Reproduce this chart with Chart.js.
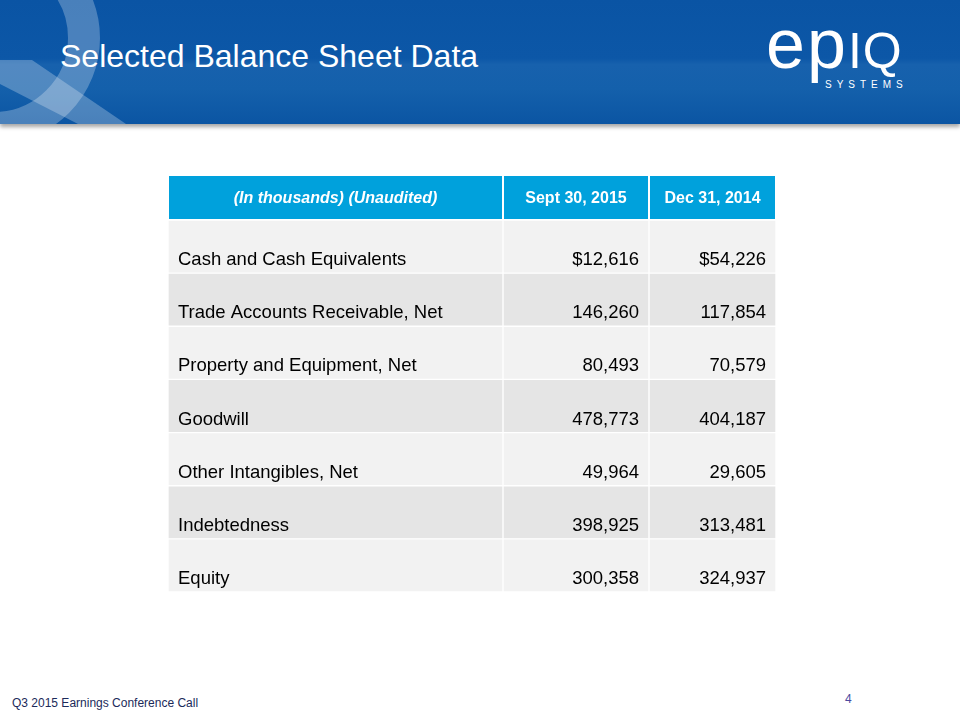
<!DOCTYPE html>
<html>
<head>
<meta charset="utf-8">
<script src="https://cdn.jsdelivr.net/npm/chart.js@4"></script>
<style>
body{margin:0;background:#fff;font-family:"Liberation Sans",Arial,sans-serif;}
#page{position:relative;width:960px;height:720px;overflow:hidden;background:#fff;}
#bandeau{position:absolute;left:0;top:0;width:960px;height:124px;
	background:linear-gradient(to bottom,#0a54a4 0%,#0c57a7 47%,#1761ad 52%,#1460ab 72%,#0b55a3 100%);
	box-shadow:0 3px 4px rgba(0,0,0,0.35);}
#bandeau svg{position:absolute;left:0;top:0;}
#titre{position:absolute;left:60px;top:38px;color:#fff;font-size:32px;white-space:nowrap;}
#logo{position:absolute;left:766px;top:9px;color:#fff;font-size:70px;letter-spacing:2px;line-height:70px;white-space:nowrap;}
#logo span{font-size:50px;letter-spacing:1px;}
#systems{position:absolute;left:825px;top:79px;color:#fff;font-size:10px;letter-spacing:5px;}
#pied{position:absolute;left:12px;top:696px;color:#1b2a5a;font-size:12px;}
#num{position:absolute;left:845px;top:692px;color:#4a4aa0;font-size:12px;}
#zone{position:absolute;left:168px;top:176px;width:608px;height:416px;}
</style>
</head>
<body>
<div id="page">
	<div id="bandeau">
		<svg width="960" height="124">
			<circle cx="-6" cy="38" r="90" fill="none" stroke="rgba(255,255,255,0.26)" stroke-width="32"/>
			<polygon points="0,60 32,60 126,124 78,124 0,84" fill="rgba(255,255,255,0.26)"/>
		</svg>
		<div id="titre">Selected Balance Sheet Data</div>
		<div id="logo">ep<span>IQ</span></div>
		<div id="systems">SYSTEMS</div>
	</div>
	<div id="zone"><canvas id="tableau"></canvas></div>
	<div id="pied">Q3 2015 Earnings Conference Call</div>
	<div id="num">4</div>
</div>
<script>
// donnees du tableau
var enTetes = ['(In thousands) (Unaudited)', 'Sept 30, 2015', 'Dec 31, 2014'];
var lignes = ['Cash and Cash Equivalents', 'Trade Accounts Receivable, Net', 'Property and Equipment, Net',
	'Goodwill', 'Other Intangibles, Net', 'Indebtedness', 'Equity'];
var sept2015 = [12616, 146260, 80493, 478773, 49964, 398925, 300358];
var dec2014 = [54226, 117854, 70579, 404187, 29605, 313481, 324937];

// largeur des colonnes (mise en page)
var largeurs = [335, 146, 127];
var police = '"Liberation Sans", Arial, sans-serif';

function format(v, i){
	var s = v.toLocaleString('en-US');
	return i == 0 ? '$' + s : s;
}

function couleurLigne(ctx){
	return ctx.dataIndex % 2 ? '#e5e5e5' : '#f2f2f2';
}

var cellules = largeurs.map(function(w, c){
	return {
		label: enTetes[c],
		data: lignes.map(function(){ return w; }),
		backgroundColor: couleurLigne,
		borderColor: '#ffffff',
		borderWidth: 1,
		borderSkipped: false,
		barPercentage: 1,
		categoryPercentage: 1
	};
});

var textes = {
	id: 'textes',
	afterDatasetsDraw: function(chart){
		var ctx = chart.ctx;
		var haut = chart.chartArea.top;
		ctx.save();
		// en-tete
		for (var c = 0; c < 3; c++){
			var b = chart.getDatasetMeta(c).data[0].getProps(['x', 'base'], true);
			ctx.fillStyle = '#00a1dc';
			ctx.fillRect(b.base + 1, haut - 44, b.x - b.base - 2, 43);
			ctx.fillStyle = '#ffffff';
			ctx.font = (c == 0 ? 'italic ' : '') + 'bold 16px ' + police;
			ctx.textAlign = 'center';
			ctx.textBaseline = 'middle';
			ctx.fillText(enTetes[c], (b.x + b.base) / 2, haut - 21);
		}
		// lignes
		ctx.fillStyle = '#000000';
		ctx.font = '18.5px ' + police;
		ctx.textBaseline = 'alphabetic';
		for (var i = 0; i < lignes.length; i++){
			var p0 = chart.getDatasetMeta(0).data[i].getProps(['x', 'y', 'base', 'height'], true);
			var p1 = chart.getDatasetMeta(1).data[i].getProps(['x'], true);
			var p2 = chart.getDatasetMeta(2).data[i].getProps(['x'], true);
			var yb = p0.y + p0.height / 2 - 8;
			ctx.textAlign = 'left';
			ctx.fillText(lignes[i], p0.base + 10, yb);
			ctx.textAlign = 'right';
			ctx.fillText(format(sept2015[i], i), p1.x - 10, yb);
			ctx.fillText(format(dec2014[i], i), p2.x - 10, yb);
		}
		ctx.restore();
	}
};

var ctx = document.getElementById('tableau').getContext('2d');
var monTableau = new Chart(ctx, {
	type: 'bar',
	data: {
		labels: lignes,
		datasets: cellules
	},
	options: {
		indexAxis: 'y',
		responsive: true,
		maintainAspectRatio: false,
		animation: false,
		layout: { padding: { top: 44, left: 0, right: 0, bottom: 0 } },
		plugins: { legend: { display: false }, tooltip: { enabled: false } },
		scales: {
			x: { stacked: true, display: false, min: 0, max: 608 },
			y: { stacked: true, display: false }
		}
	},
	plugins: [textes]
});
</script>
</body>
</html>
